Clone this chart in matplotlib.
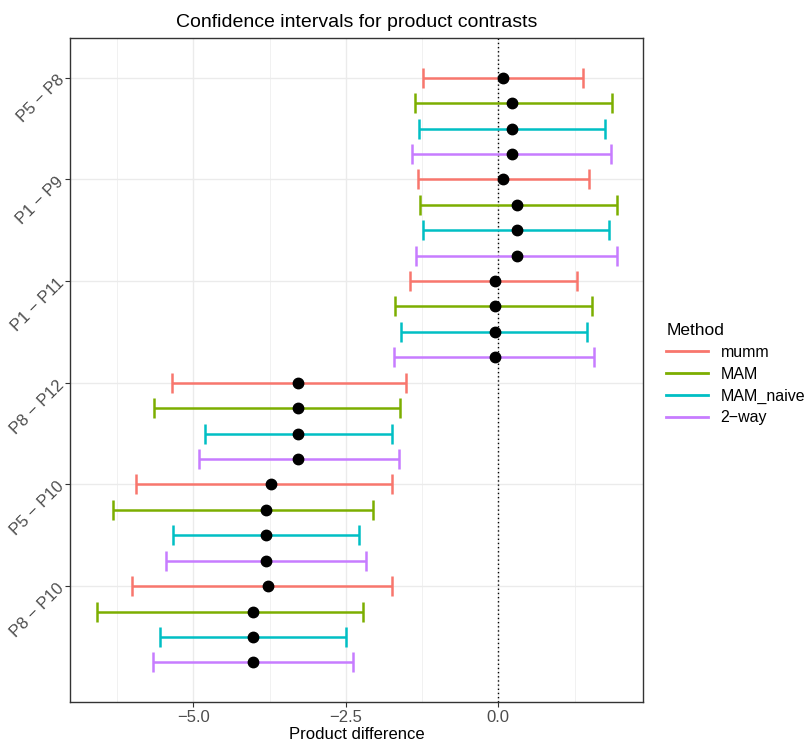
import numpy as np
import matplotlib.pyplot as plt
from matplotlib.lines import Line2D

plt.rcParams['font.family'] = ['Liberation Sans', 'DejaVu Sans']

# contrasts, top to bottom
contrastes = ["P5 \u2212 P8", "P1 \u2212 P9", "P1 \u2212 P11", "P8 \u2212 P12", "P5 \u2212 P10", "P8 \u2212 P10"]
metodos = ["mumm", "MAM", "MAM_naive", "2\u2212way"]
cores = ["#F8766D", "#7CAE00", "#00BFC4", "#C77CFF"]

# estimate, lower, upper for each method (rows = contrasts)
estimativa = {
    "mumm":      [0.07, 0.07, -0.06, -3.28, -3.73, -3.77],
    "MAM":       [0.23, 0.30, -0.06, -3.28, -3.80, -4.02],
    "MAM_naive": [0.23, 0.30, -0.06, -3.28, -3.80, -4.02],
    "2\u2212way": [0.23, 0.30, -0.06, -3.28, -3.80, -4.02],
}
inferior = {
    "mumm":      [-1.23, -1.32, -1.45, -5.35, -5.94, -6.01],
    "MAM":       [-1.37, -1.29, -1.70, -5.64, -6.31, -6.58],
    "MAM_naive": [-1.30, -1.23, -1.60, -4.80, -5.33, -5.54],
    "2\u2212way": [-1.42, -1.35, -1.71, -4.91, -5.44, -5.66],
}
superior = {
    "mumm":      [1.38, 1.49, 1.29, -1.52, -1.74, -1.75],
    "MAM":       [1.86, 1.95, 1.53, -1.61, -2.05, -2.21],
    "MAM_naive": [1.75, 1.82, 1.45, -1.75, -2.28, -2.50],
    "2\u2212way": [1.85, 1.94, 1.57, -1.63, -2.17, -2.38],
}

fig = plt.figure(figsize=(8.1, 7.41), dpi=100)
ax = fig.add_axes([0.0864, 0.0526, 0.7074, 0.8961])

posicoes = np.arange(1, len(contrastes) + 1)
for i, m in enumerate(metodos):
    y = posicoes + 0.25 * i
    est = np.array(estimativa[m])
    lo = np.array(inferior[m])
    hi = np.array(superior[m])
    ax.errorbar(est, y, xerr=[est - lo, hi - est], fmt='none', ecolor=cores[i],
                elinewidth=1.8, capsize=7, capthick=1.8, zorder=3)
for i, m in enumerate(metodos):
    y = posicoes + 0.25 * i
    ax.plot(estimativa[m], y, 'o', color='black', markersize=7.5, zorder=4)

ax.axvline(0, color='black', linestyle=(0, (1, 2)), linewidth=1, zorder=2)

ax.set_xlim(-7.02, 2.37)
ax.set_ylim(7.14, 0.61)
ax.set_xticks([-5.0, -2.5, 0.0])
ax.set_xticklabels(["\u22125.0", "\u22122.5", "0.0"])
ax.set_xticks([-6.25, -3.75, -1.25, 1.25], minor=True)
ax.set_yticks(posicoes)
ax.set_yticklabels(contrastes, rotation=45, ha='right', va='center', rotation_mode='anchor')

ax.grid(True, which='major', color='#EBEBEB', linewidth=1.0, zorder=0)
ax.grid(True, which='minor', axis='x', color='#EBEBEB', linewidth=0.5, zorder=0)
ax.set_axisbelow(True)
ax.tick_params(which='minor', length=0)
ax.tick_params(which='major', length=3.5, width=0.8, color='#333333', labelcolor='#4D4D4D',
               labelsize=12, pad=2.5)
for s in ax.spines.values():
    s.set_color('#333333')
    s.set_linewidth(1.0)

ax.set_xlabel("Product difference", fontsize=12, labelpad=1)
ax.set_title("Confidence intervals for product contrasts", fontsize=14, pad=8)

alcas = [Line2D([], [], color=c, linewidth=2) for c in cores]
fig.legend(alcas, metodos, loc='upper left', bbox_to_anchor=(0.805, 0.583), frameon=False,
           title="Method", title_fontsize=12.5, fontsize=11.5, handlelength=2.6,
           labelspacing=0.42, alignment='left')

fig.savefig("out.png", dpi=100)
